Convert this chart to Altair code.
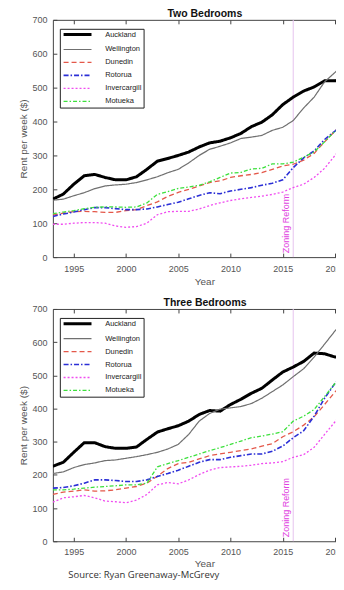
import altair as alt
import pandas as pd

years = list(range(1993, 2022))
cities = ["Auckland", "Wellington", "Dunedin", "Rotorua", "Invercargill", "Motueka"]

two_bed = {
    "Auckland":     [171, 186, 215, 240, 244, 235, 228, 228, 237, 259, 283, 291, 300, 310, 325, 337, 342, 352, 365, 385, 398, 420, 450, 472, 490, 502, 520, 520, 528],
    "Wellington":   [168, 171, 181, 190, 202, 210, 213, 215, 220, 228, 237, 249, 259, 278, 300, 318, 327, 337, 350, 354, 359, 374, 383, 403, 440, 472, 517, 545, 572],
    "Dunedin":      [124, 130, 134, 135, 134, 132, 132, 137, 140, 152, 163, 179, 191, 200, 210, 220, 225, 235, 240, 244, 249, 259, 269, 274, 286, 306, 340, 372, 400],
    "Rotorua":      [120, 127, 133, 140, 146, 146, 143, 140, 140, 142, 148, 155, 162, 172, 182, 190, 187, 195, 200, 205, 212, 218, 228, 264, 293, 313, 347, 372, 395],
    "Invercargill": [97, 97, 100, 102, 102, 100, 92, 88, 90, 100, 125, 134, 135, 135, 142, 152, 160, 167, 172, 176, 180, 185, 192, 205, 215, 235, 262, 300, 335],
    "Motueka":      [128, 133, 137, 143, 147, 148, 148, 147, 148, 160, 185, 193, 203, 207, 212, 222, 235, 248, 250, 260, 262, 275, 275, 280, 295, 310, 340, 372, 368],
}

three_bed = {
    "Auckland":     [226, 238, 268, 297, 297, 285, 280, 280, 284, 307, 329, 339, 348, 362, 382, 394, 392, 412, 428, 446, 461, 486, 510, 525, 542, 567, 565, 555, 557],
    "Wellington":   [204, 209, 222, 231, 236, 243, 245, 250, 255, 261, 268, 278, 292, 322, 362, 385, 398, 402, 406, 415, 431, 451, 471, 496, 520, 555, 594, 634, 668],
    "Dunedin":      [141, 148, 151, 155, 151, 152, 155, 160, 165, 175, 196, 219, 234, 238, 248, 258, 263, 268, 273, 278, 287, 294, 315, 330, 350, 375, 412, 450, 483],
    "Rotorua":      [160, 162, 167, 175, 185, 185, 183, 180, 180, 185, 195, 204, 214, 226, 238, 246, 246, 253, 258, 263, 263, 271, 287, 312, 333, 377, 431, 476, 510],
    "Invercargill": [118, 131, 134, 138, 131, 121, 119, 116, 124, 141, 170, 177, 173, 185, 201, 214, 222, 224, 226, 229, 234, 236, 240, 253, 261, 283, 322, 360, 400],
    "Motueka":      [155, 155, 157, 160, 163, 165, 167, 170, 170, 175, 224, 234, 243, 253, 263, 273, 282, 292, 302, 312, 317, 323, 330, 362, 377, 397, 436, 476, 495],
}

x_ticks = [1995, 2000, 2005, 2010, 2015, 2020]
y_ticks = [0, 100, 200, 300, 400, 500, 600, 700]
reform_year = [2016]
reform_label = ["Zoning Reform"]
source_text = "Source: Ryan Greenaway-McGrevy"

colors = ["#000000", "#707070", "#e4584a", "#2b2fd6", "#f04cf0", "#3de03d"]
dashes = [[1, 0], [1, 0], [5, 3], [5, 2, 1.5, 2], [2, 2], [4, 2, 1.5, 2]]
widths = [3, 1.2, 1.3, 1.6, 1.3, 1.3]

FONT = "Liberation Sans"


def long_df(d):
    rows = []
    for c in cities:
        for yr, v in zip(years, d[c]):
            rows.append({"Year": yr, "Rent": v, "City": c})
    return pd.DataFrame(rows)


def panel(d, title, title_dx, height, x_label_pad, x_title_pad):
    df = long_df(d)
    x_scale = alt.Scale(domain=[1993, 2022], nice=False, zero=False)
    y_scale = alt.Scale(domain=[0, 700], nice=False, zero=False)
    legend = alt.Legend(
        title=None, orient="none", legendX=7, legendY=9,
        strokeColor="#222", fillColor="white", padding=2,
        labelFont=FONT, labelFontSize=7.5, labelColor="#222",
        symbolType="M-14,0H14", symbolSize=4, symbolOffset=12,
        labelOffset=24, rowPadding=4,
    )
    lines = alt.Chart(df).mark_line(clip=True).encode(
        x=alt.X("Year:Q", scale=x_scale,
                axis=alt.Axis(orient="bottom", values=x_ticks, format="d", title="Year",
                              offset=-4, tickSize=4, domain=False, grid=False,
                              labelPadding=x_label_pad, titlePadding=x_title_pad, tickColor="#444")),
        y=alt.Y("Rent:Q", scale=y_scale,
                axis=alt.Axis(values=y_ticks, title="Rent per week ($)",
                              offset=-4, tickSize=4, domain=False, grid=False,
                              labelPadding=6, titlePadding=3, tickColor="#444")),
        color=alt.Color("City:N", sort=cities, scale=alt.Scale(domain=cities, range=colors), legend=legend),
        strokeDash=alt.StrokeDash("City:N", sort=cities, scale=alt.Scale(domain=cities, range=dashes), legend=legend),
        strokeWidth=alt.StrokeWidth("City:N", sort=cities,
                                    scale=alt.Scale(type="ordinal", domain=cities, range=widths), legend=legend),
    )
    reform_df = pd.DataFrame({"Year": reform_year, "label": reform_label})
    rule = alt.Chart(reform_df).mark_rule(color="#e6c4ee", strokeWidth=1).encode(
        x=alt.X("Year:Q", scale=x_scale,
                axis=alt.Axis(orient="top", values=x_ticks, labels=False, title=None,
                              offset=-4, tickSize=4, domain=False, grid=False, tickColor="#444")),
    )
    text = alt.Chart(reform_df).mark_text(
        angle=270, align="left", baseline="bottom", color="#e040e0",
        font=FONT, fontSize=9, dy=-2,
    ).encode(
        x=alt.X("Year:Q", scale=x_scale, axis=None),
        y=alt.value(height - 4),
        text="label:N",
    )
    return alt.layer(rule, lines, text).resolve_scale(x="independent").properties(
        width=304, height=height,
        title=alt.Title(title, anchor="start", dx=title_dx, fontSize=10.5,
                        fontWeight="bold", font=FONT, color="#111", offset=-4),
    )


top = panel(two_bed, "Two Bedrooms", 149, 238, 7, 3)
bottom = panel(three_bed, "Three Bedrooms", 145, 233, 6, 2)

chart = alt.vconcat(top, bottom, spacing=11).resolve_scale(
    color="independent", strokeDash="independent", strokeWidth="independent"
).resolve_legend(
    color="independent", strokeDash="independent", strokeWidth="independent"
).properties(
    title=alt.Title(source_text, orient="bottom", anchor="start", dx=50,
                    font="Open Sans", fontSize=9.5, fontWeight="normal", color="#333", offset=1),
    padding={"left": 10, "top": 0, "right": -21, "bottom": 1},
).configure_view(
    stroke="#444", strokeWidth=1
).configure_axis(
    labelFont=FONT, labelFontSize=9, labelColor="#555",
    titleFont=FONT, titleFontSize=10, titleColor="#555", titleFontWeight="normal",
)

chart.save("out.html", embed_options={"renderer": "svg", "actions": False})
